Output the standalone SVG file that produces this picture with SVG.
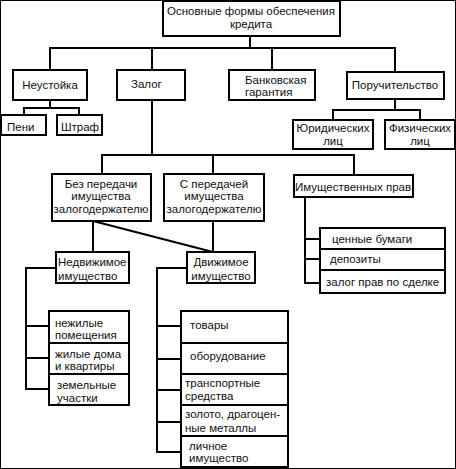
<svg xmlns="http://www.w3.org/2000/svg" width="456" height="469" viewBox="0 0 456 469">
<style>
rect{fill:#fff;stroke:#000;stroke-width:2}
.c path,.c line{stroke:#000;stroke-width:2;fill:none}
text{font-family:"Liberation Sans",Arial,sans-serif;font-size:11.5px;fill:#111}
.m{text-anchor:middle}
</style>
<rect x="0" y="0" width="456" height="469" fill="#fff" stroke="none"/>
<g class="c" id="connectors">
<path d="M250 36V48M50 70V48H395V72M152 48V70M272 48V70"/>
<path d="M50 100V108M24 115V108H79V115"/>
<path d="M395 99V110M333 120V110H420V120"/>
<path d="M152 100V155M102 174V155H354V175M213 155V174"/>
<path d="M93 221V252M93 221L213 252M213 221V252"/>
<path d="M56 268H26V389H49M26 326H49M26 358H49"/>
<path d="M187 268H157V452H181M157 326H181M157 359H181M157 390H181M157 422H181"/>
<path d="M305 197V283H320M305 239H320M305 259H320"/>
</g>
<g id="root"><rect x="163" y="1" width="177" height="35"/><text class="m" x="251" y="15">Основные формы обеспечения</text><text class="m" x="251" y="28">кредита</text></g>
<g id="neustoyka"><rect x="13" y="70" width="74" height="30"/><text class="m" x="50" y="89">Неустойка</text></g>
<g id="zalog"><rect x="117" y="70" width="68" height="30"/><text x="131" y="88">Залог</text></g>
<g id="bank"><rect x="229" y="70" width="86" height="30"/><text x="245" y="84">Банковская</text><text x="245" y="96">гарантия</text></g>
<g id="poruch"><rect x="347" y="72" width="97" height="27"/><text class="m" x="395" y="89">Поручительство</text></g>
<g id="peni"><rect x="1" y="115" width="45" height="20"/><text x="7" y="131">Пени</text></g>
<g id="shtraf"><rect x="57" y="115" width="45" height="20"/><text x="61" y="131">Штраф</text></g>
<g id="yur"><rect x="293" y="120" width="80" height="29"/><text class="m" x="333" y="132">Юридических</text><text class="m" x="333" y="145">лиц</text></g>
<g id="fiz"><rect x="385" y="120" width="70" height="29"/><text class="m" x="420" y="132">Физических</text><text class="m" x="420" y="145">лиц</text></g>
<g id="bez"><rect x="52" y="174" width="99" height="47"/><text class="m" x="101" y="188">Без передачи</text><text class="m" x="101" y="200">имущества</text><text class="m" x="101" y="213">залогодержателю</text></g>
<g id="sper"><rect x="164" y="174" width="100" height="47"/><text class="m" x="214" y="188">С передачей</text><text class="m" x="214" y="200">имущества</text><text class="m" x="214" y="213">залогодержателю</text></g>
<g id="imprav"><rect x="294" y="175" width="119" height="22"/><text class="m" x="353" y="191">Имущественных прав</text></g>
<g id="nedv"><rect x="56" y="252" width="73" height="31"/><text x="58" y="266">Недвижимое</text><text x="58" y="280">имущество</text></g>
<g id="dvizh"><rect x="187" y="252" width="68" height="31"/><text class="m" x="221" y="266">Движимое</text><text class="m" x="221" y="280">имущество</text></g>
<g id="nezh"><rect x="49" y="311" width="80" height="32"/><text x="55" y="327">нежилые</text><text x="55" y="339">помещения</text></g>
<g id="zhil"><rect x="49" y="343" width="80" height="31"/><text x="55" y="358">жилые дома</text><text x="55" y="370">и квартиры</text></g>
<g id="zem"><rect x="49" y="374" width="80" height="31"/><text x="57" y="389">земельные</text><text x="57" y="402">участки</text></g>
<g id="tovary"><rect x="181" y="311" width="107" height="32"/><text x="190" y="329">товары</text></g>
<g id="obor"><rect x="181" y="343" width="107" height="31"/><text x="190" y="360">оборудование</text></g>
<g id="trans"><rect x="181" y="374" width="107" height="31"/><text x="185" y="387">транспортные</text><text x="185" y="400">средства</text></g>
<g id="zoloto"><rect x="181" y="405" width="107" height="31"/><text x="185" y="418">золото, драгоцен-</text><text x="185" y="432">ные металлы</text></g>
<g id="lichn"><rect x="181" y="436" width="107" height="31"/><text x="189" y="450">личное</text><text x="189" y="462">имущество</text></g>
<g id="cb"><rect x="320" y="228" width="125" height="21"/><text x="332" y="243">ценные бумаги</text></g>
<g id="dep"><rect x="320" y="249" width="125" height="21"/><text x="330" y="263">депозиты</text></g>
<g id="zpr"><rect x="320" y="270" width="125" height="23"/><text x="326" y="286">залог прав по сделке</text></g>
</svg>
